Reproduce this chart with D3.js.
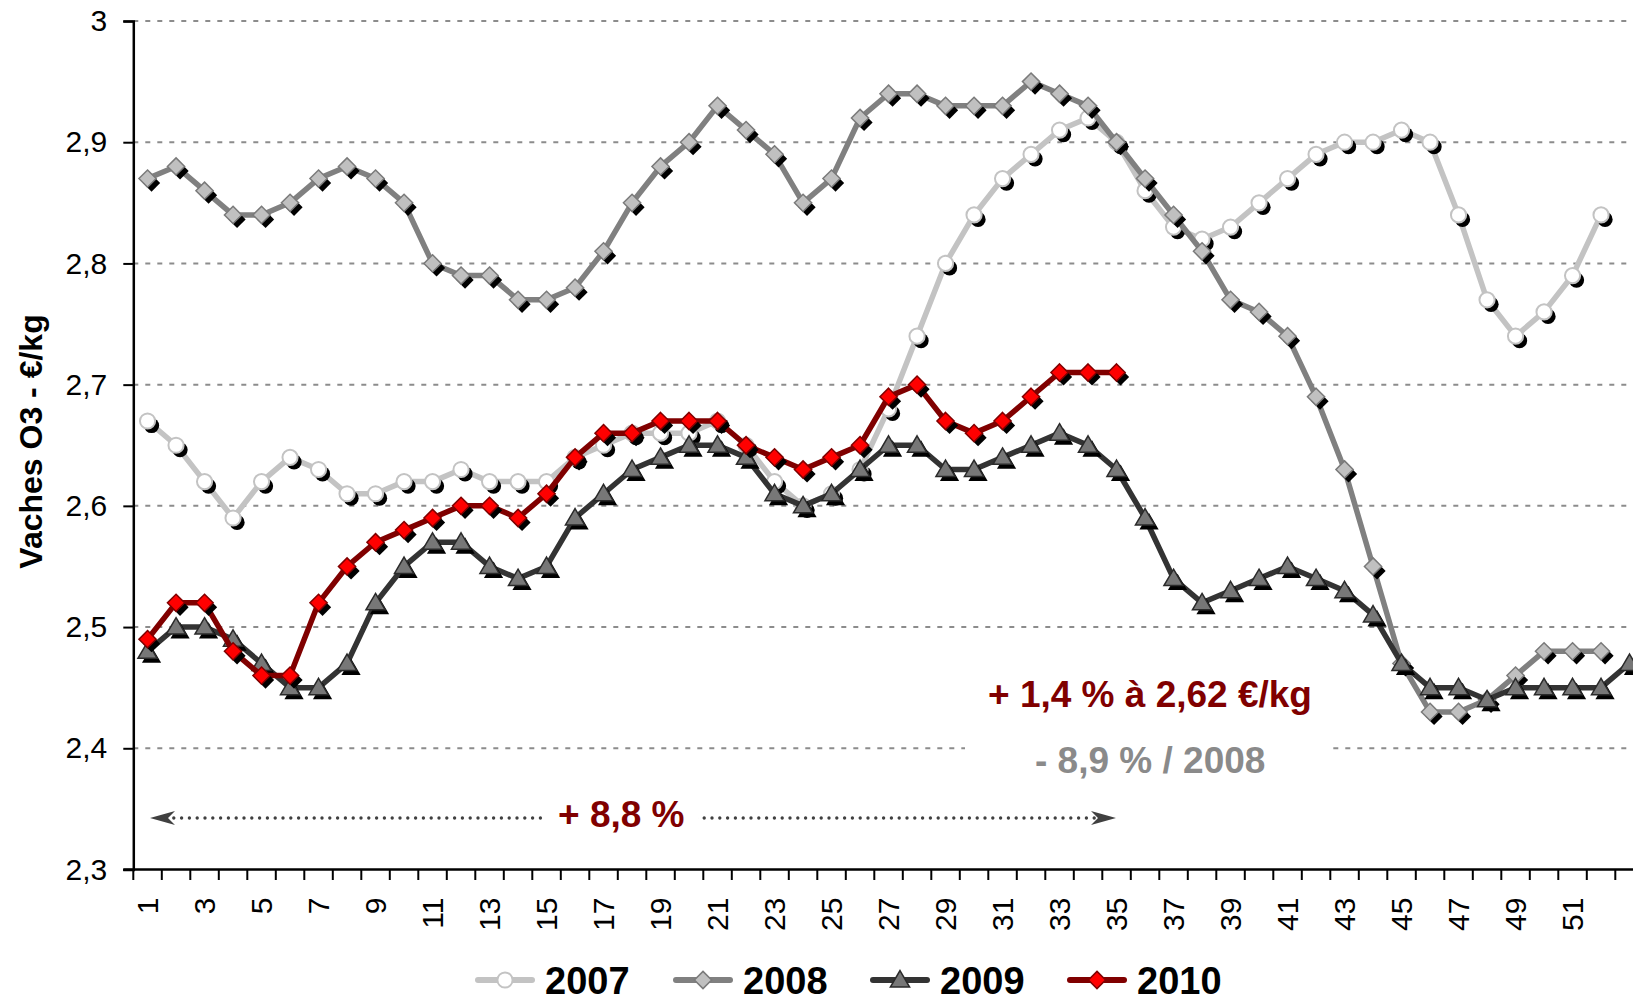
<!DOCTYPE html>
<html>
<head>
<meta charset="utf-8">
<script src="https://cdn.jsdelivr.net/npm/d3@7"></script>
<style>
  body { margin: 0; background: #fff; }
  svg { display: block; font-family: "Liberation Sans", Arial, sans-serif; }
</style>
</head>
<body>
<svg id="chart" width="1633" height="1000"></svg>
<script>
// weekly prices, O3 cows, euros/kg
var weeks = d3.range(1, 54);
var yTicks = [2.3, 2.4, 2.5, 2.6, 2.7, 2.8, 2.9, 3];
var weekLabels = d3.range(1, 52, 2);

var v2007 = [2.67,2.65,2.62,2.59,2.62,2.64,2.63,2.61,2.61,2.62,
             2.62,2.63,2.62,2.62,2.62,2.64,2.65,2.66,2.66,2.66,
             2.67,2.65,2.62,2.60,2.61,2.63,2.68,2.74,2.80,2.84,
             2.87,2.89,2.91,2.92,2.90,2.86,2.83,2.82,2.83,2.85,
             2.87,2.89,2.90,2.90,2.91,2.90,2.84,2.77,2.74,2.76,
             2.79,2.84];
var v2008 = [2.87,2.88,2.86,2.84,2.84,2.85,2.87,2.88,2.87,2.85,
             2.80,2.79,2.79,2.77,2.77,2.78,2.81,2.85,2.88,2.90,
             2.93,2.91,2.89,2.85,2.87,2.92,2.94,2.94,2.93,2.93,
             2.93,2.95,2.94,2.93,2.90,2.87,2.84,2.81,2.77,2.76,
             2.74,2.69,2.63,2.55,2.47,2.43,2.43,2.44,2.46,2.48,
             2.48,2.48];
var v2009 = [2.48,2.50,2.50,2.49,2.47,2.45,2.45,2.47,2.52,2.55,
             2.57,2.57,2.55,2.54,2.55,2.59,2.61,2.63,2.64,2.65,
             2.65,2.64,2.61,2.60,2.61,2.63,2.65,2.65,2.63,2.63,
             2.64,2.65,2.66,2.65,2.63,2.59,2.54,2.52,2.53,2.54,
             2.55,2.54,2.53,2.51,2.47,2.45,2.45,2.44,2.45,2.45,
             2.45,2.45,2.47];
var v2010 = [2.49,2.52,2.52,2.48,2.46,2.46,2.52,2.55,2.57,2.58,
             2.59,2.60,2.60,2.59,2.61,2.64,2.66,2.66,2.67,2.67,
             2.67,2.65,2.64,2.63,2.64,2.65,2.69,2.70,2.67,2.66,
             2.67,2.69,2.71,2.71,2.71];

var seriesNames = ['2007', '2008', '2009', '2010'];
var seriesValues = [v2007, v2008, v2009, v2010];

var styles = {
  '2007': { line: '#c3c3c3', fill: '#ffffff', stroke: '#c3c3c3', shape: 'circle' },
  '2008': { line: '#808080', fill: '#c0c0c0', stroke: '#7a7a7a', shape: 'diamond' },
  '2009': { line: '#333333', fill: '#777777', stroke: '#2a2a2a', shape: 'triangle' },
  '2010': { line: '#800000', fill: '#ff0000', stroke: '#800000', shape: 'diamond' }
};

var svg = d3.select('#chart');
var plotLeft = 133.3, plotTop = 21, plotBottom = 869.5, band = 28.5;

var x = d3.scaleBand()
  .domain(weeks)
  .range([plotLeft, plotLeft + weeks.length * band])
  .paddingInner(0).paddingOuter(0);
var y = d3.scaleLinear().domain([2.3, 3]).range([plotBottom, plotTop]);
var cx = function(w) { return x(w) + x.bandwidth() / 2; };
var fmt = function(v) { return d3.format('.1~f')(v).replace('.', ','); };

// gridlines
svg.append('g').selectAll('line')
  .data(yTicks.filter(function(t) { return t > 2.3; }))
  .enter().append('line')
  .attr('x1', plotLeft).attr('x2', 1633)
  .attr('y1', function(d) { return y(d); })
  .attr('y2', function(d) { return y(d); })
  .attr('stroke', '#8c8c8c')
  .attr('stroke-width', 2)
  .attr('stroke-dasharray', '5,7');

// white text box behind the annotations
svg.append('rect')
  .attr('x', 965).attr('y', 668).attr('width', 367).attr('height', 116)
  .attr('fill', '#fff');

// y axis
var yAxis = svg.append('g')
  .attr('transform', 'translate(' + plotLeft + ',0)')
  .call(d3.axisLeft(y).tickValues(yTicks).tickFormat(fmt).tickSize(10).tickPadding(16));
yAxis.select('.domain').attr('stroke', '#000').attr('stroke-width', 2.5);
yAxis.selectAll('.tick line').attr('stroke', '#000').attr('stroke-width', 2);
yAxis.selectAll('text').attr('font-size', 30).attr('fill', '#000')
  .attr('font-family', '"Liberation Sans", Arial, sans-serif');

// x axis
var xAxis = svg.append('g')
  .attr('transform', 'translate(0,' + plotBottom + ')')
  .call(d3.axisBottom(x).tickValues(weekLabels).tickSize(0));
xAxis.select('.domain').remove();
xAxis.selectAll('text')
  .attr('font-size', 30).attr('fill', '#000')
  .attr('font-family', '"Liberation Sans", Arial, sans-serif')
  .attr('transform', 'rotate(-90)')
  .attr('x', -28).attr('y', 0).attr('dy', '0.35em')
  .style('text-anchor', 'end');
svg.append('line')
  .attr('x1', plotLeft - 10).attr('x2', 1633)
  .attr('y1', plotBottom).attr('y2', plotBottom)
  .attr('stroke', '#000').attr('stroke-width', 2.5);
svg.append('g').selectAll('line')
  .data(weeks)
  .enter().append('line')
  .attr('x1', function(d) { return x(d); })
  .attr('x2', function(d) { return x(d); })
  .attr('y1', plotBottom).attr('y2', plotBottom + 10.5)
  .attr('stroke', '#000').attr('stroke-width', 2);

// y title
svg.append('text')
  .attr('transform', 'translate(42,441.5) rotate(-90)')
  .attr('text-anchor', 'middle')
  .attr('font-size', 32).attr('font-weight', 'bold')
  .text('Vaches O3 - €/kg');

// + 8,8 % arrow
var arrowY = 818;
svg.append('line')
  .attr('x1', 166).attr('x2', 1102)
  .attr('y1', arrowY).attr('y2', arrowY)
  .attr('stroke', '#404040').attr('stroke-width', 3.4)
  .attr('stroke-linecap', 'round')
  .attr('stroke-dasharray', '0,7.8');
svg.append('polygon')
  .attr('points', [[150, arrowY], [175, arrowY - 7], [168, arrowY], [175, arrowY + 7]].join(' '))
  .attr('fill', '#404040');
svg.append('polygon')
  .attr('points', [[1116, arrowY], [1091, arrowY - 7], [1098, arrowY], [1091, arrowY + 7]].join(' '))
  .attr('fill', '#404040');
svg.append('rect')
  .attr('x', 546).attr('y', 795).attr('width', 152).attr('height', 40)
  .attr('fill', '#fff');
svg.append('text')
  .attr('x', 558).attr('y', 827)
  .attr('font-size', 37).attr('font-weight', 'bold').attr('fill', '#800000')
  .text('+ 8,8 %');

svg.append('text')
  .attr('x', 988).attr('y', 707)
  .attr('font-size', 37).attr('font-weight', 'bold').attr('fill', '#800000')
  .text('+ 1,4 % à 2,62 €/kg');
svg.append('text')
  .attr('x', 1035).attr('y', 773)
  .attr('font-size', 37).attr('font-weight', 'bold').attr('fill', '#8a8a8a')
  .text('- 8,9 % / 2008');

// marker path per shape
function markerPath(shape) {
  if (shape === 'circle') return d3.symbol().type(d3.symbolCircle).size(Math.PI * 7.6 * 7.6)();
  if (shape === 'diamond') return 'M0,-8.6L8.6,0L0,8.6L-8.6,0Z';
  return 'M0,-9.4L9.6,7L-9.6,7Z';
}

var line = d3.line()
  .defined(function(d) { return d.v != null; })
  .x(function(d) { return cx(d.w); })
  .y(function(d) { return y(d.v); });

seriesNames.forEach(function(name, i) {
  var st = styles[name];
  var pts = seriesValues[i].map(function(v, j) { return { w: weeks[j], v: v }; });
  var g = svg.append('g').attr('class', 'series-' + name);

  g.append('path')
    .datum(pts)
    .attr('d', line)
    .attr('fill', 'none')
    .attr('stroke', st.line)
    .attr('stroke-width', 5.5)
    .attr('stroke-linejoin', 'round');

  g.selectAll('.shadow')
    .data(pts)
    .enter().append('path')
    .attr('class', 'shadow')
    .attr('d', markerPath(st.shape))
    .attr('transform', function(d) { return 'translate(' + (cx(d.w) + 4) + ',' + (y(d.v) + 4.5) + ')'; })
    .attr('fill', '#000');

  g.selectAll('.mark')
    .data(pts)
    .enter().append('path')
    .attr('class', 'mark')
    .attr('d', markerPath(st.shape))
    .attr('transform', function(d) { return 'translate(' + cx(d.w) + ',' + y(d.v) + ')'; })
    .attr('fill', st.fill)
    .attr('stroke', st.stroke)
    .attr('stroke-width', st.shape === 'circle' ? 2 : 1.5);
});

// legend
var legendX = [475, 673, 870, 1067];
var legendY = 980;
seriesNames.forEach(function(name, i) {
  var st = styles[name];
  var lg = svg.append('g').attr('transform', 'translate(' + legendX[i] + ',' + legendY + ')');
  lg.append('line')
    .attr('x1', 3).attr('x2', 57).attr('y1', 0).attr('y2', 0)
    .attr('stroke', st.line).attr('stroke-width', 6)
    .attr('stroke-linecap', 'round');
  lg.append('path')
    .attr('d', markerPath(st.shape))
    .attr('transform', 'translate(30,0)')
    .attr('fill', st.fill).attr('stroke', st.stroke)
    .attr('stroke-width', st.shape === 'circle' ? 2 : 1.5);
  lg.append('text')
    .attr('x', 70).attr('y', 13.5)
    .attr('font-size', 38).attr('font-weight', 'bold').attr('fill', '#000')
    .text(name);
});
</script>
</body>
</html>
